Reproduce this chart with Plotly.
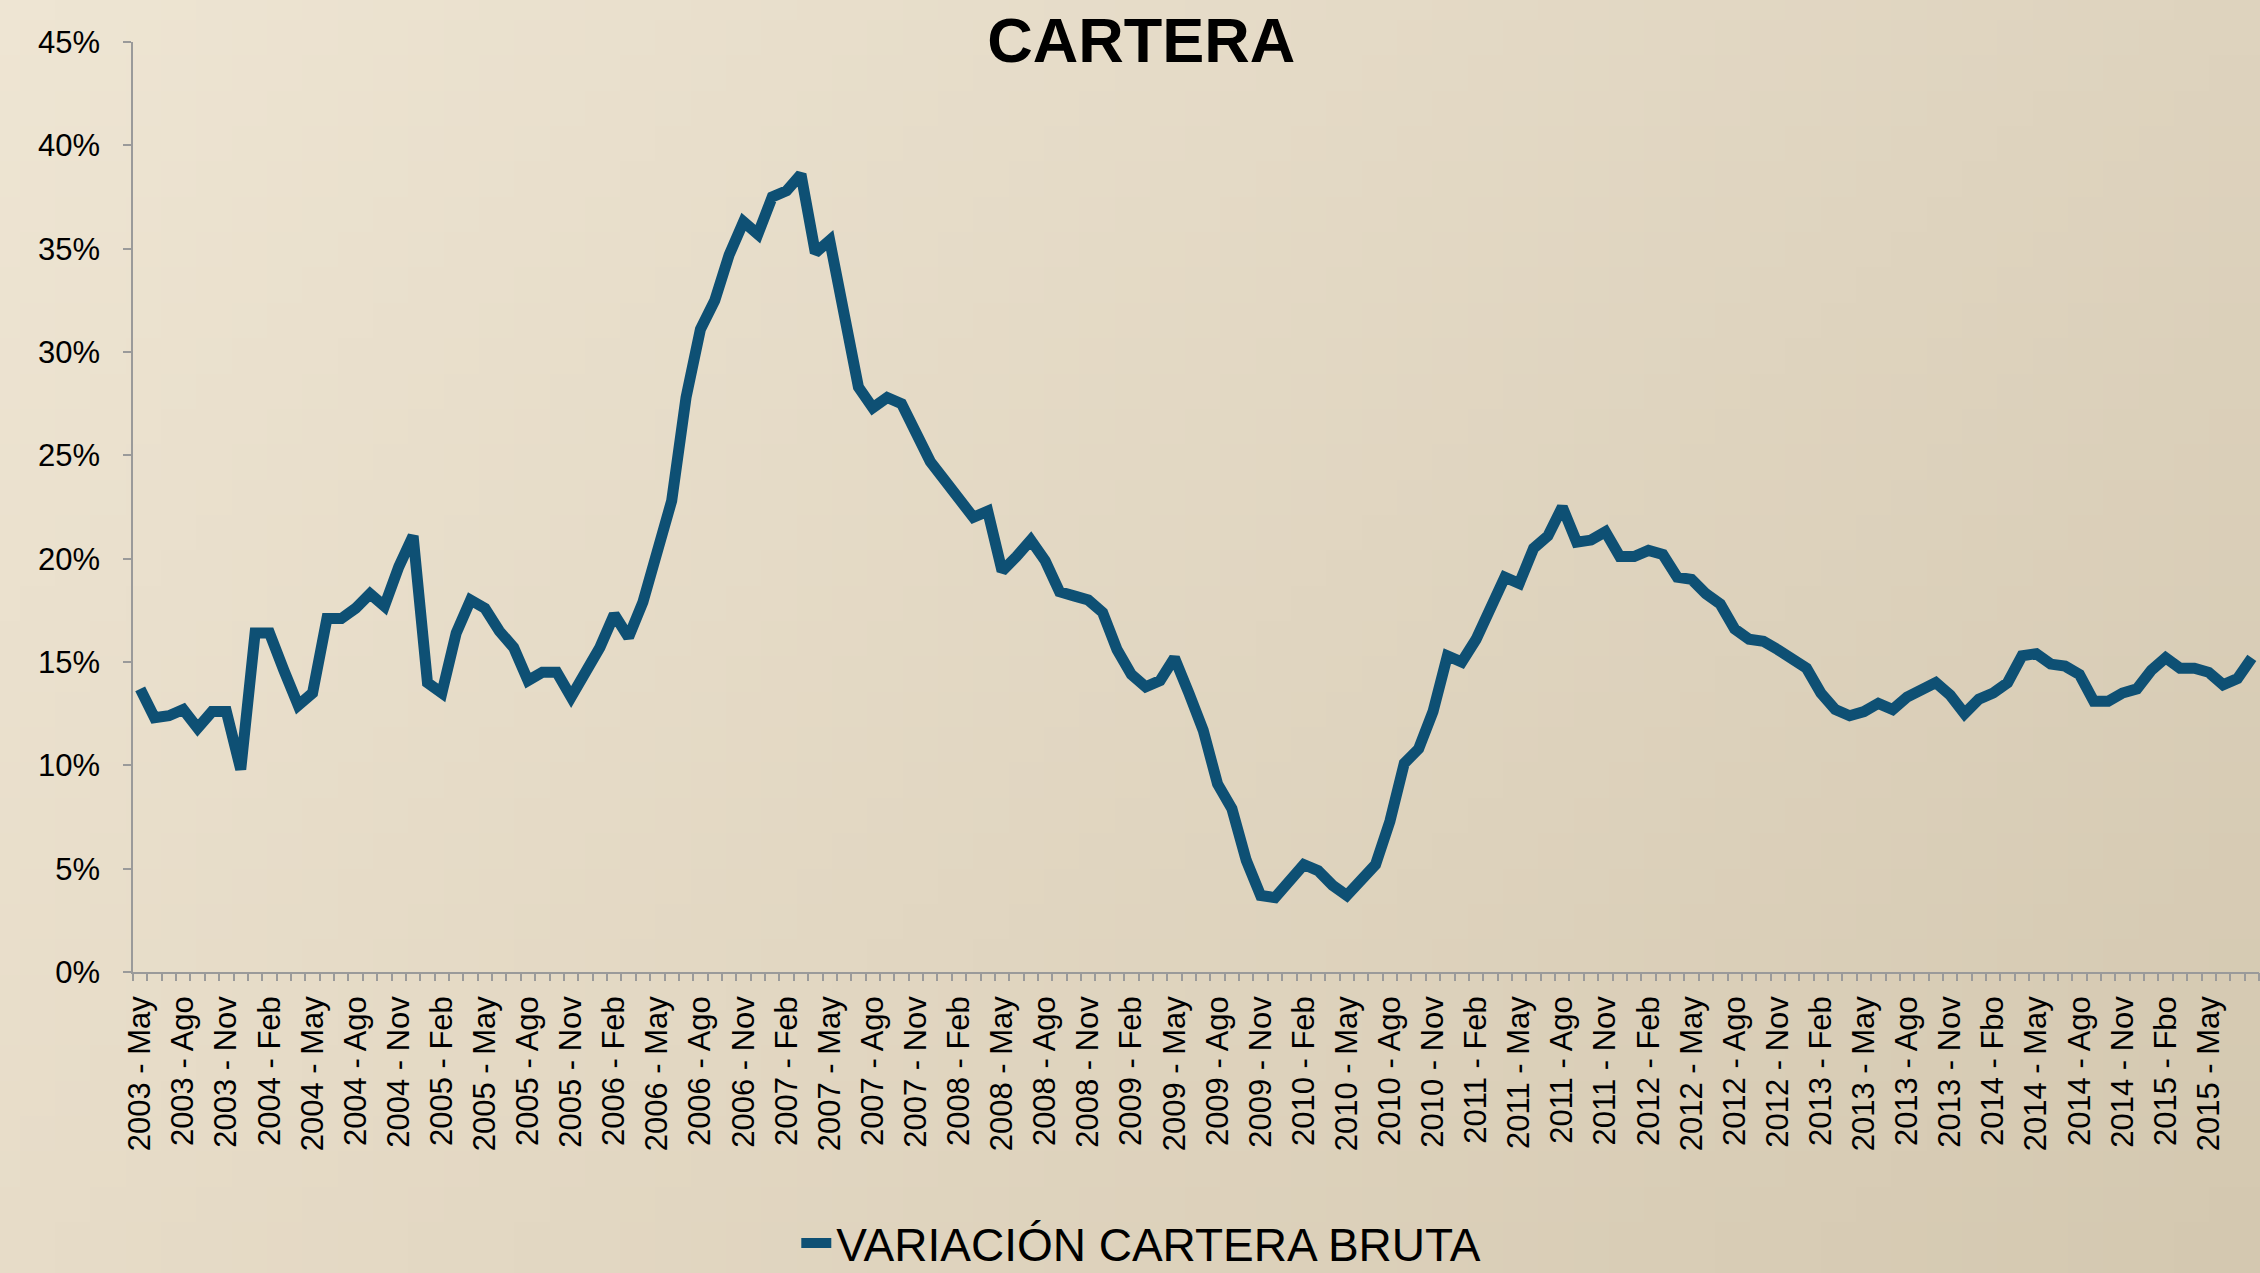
import base64
import struct
import zlib

import plotly.graph_objects as go

# ---------------- data ----------------
month_names = ["Ene", "Feb", "Mar", "Abr", "May", "Jun", "Jul", "Ago", "Sep", "Oct", "Nov", "Dic"]
start_year, start_month, n_months = 2003, 4, 148  # May 2003 .. Aug 2015
categories = [
    f"{start_year + (start_month + k) // 12} - {month_names[(start_month + k) % 12]}"
    for k in range(n_months)
]

variacion_cartera_bruta = [
    13.7, 12.3, 12.4, 12.7, 11.8, 12.6, 12.6, 9.8, 16.4, 16.4, 14.6, 12.9,
    13.5, 17.1, 17.1, 17.6, 18.3, 17.7, 19.6, 21.1, 14.0, 13.5, 16.4, 18.0,
    17.6, 16.5, 15.7, 14.1, 14.5, 14.5, 13.3, 14.4, 15.7, 17.3, 16.2, 17.9,
    20.3, 22.8, 27.8, 31.1, 32.5, 34.7, 36.3, 35.7, 37.5, 37.8, 38.6, 34.8,
    35.4, 32.0, 28.3, 27.3, 27.8, 27.5, 26.2, 24.7, 23.8, 22.9, 22.0, 22.3,
    19.4, 20.1, 20.9, 19.9, 18.4, 18.2, 18.0, 17.4, 15.6, 14.4, 13.8, 14.1,
    15.2, 13.5, 11.7, 9.1, 7.9, 5.4, 3.7, 3.6, 4.5, 5.2, 4.9, 4.2,
    3.7, 4.4, 5.2, 7.3, 10.1, 10.8, 12.6, 15.3, 15.0, 16.1, 17.6, 19.1,
    18.8, 20.5, 21.1, 22.5, 20.8, 20.9, 21.3, 20.1, 20.1, 20.4, 20.2, 19.1,
    19.0, 18.3, 17.8, 16.6, 16.1, 16.0, 15.6, 15.2, 14.7, 13.5, 12.7, 12.4,
    12.6, 13.0, 12.7, 13.3, 13.6, 14.0, 13.4, 12.5, 13.2, 13.5, 14.0, 15.3,
    15.4, 14.9, 14.8, 14.4, 13.1, 13.1, 13.5, 13.7, 14.6, 15.2, 14.7, 14.7,
    14.5, 13.9, 14.2, 15.2,
]

tick_labels = [
    "2003 - May", "2003 - Ago", "2003 - Nov", "2004 - Feb", "2004 - May", "2004 - Ago",
    "2004 - Nov", "2005 - Feb", "2005 - May", "2005 - Ago", "2005 - Nov", "2006 - Feb",
    "2006 - May", "2006 - Ago", "2006 - Nov", "2007 - Feb", "2007 - May", "2007 - Ago",
    "2007 - Nov", "2008 - Feb", "2008 - May", "2008 - Ago", "2008 - Nov", "2009 - Feb",
    "2009 - May", "2009 - Ago", "2009 - Nov", "2010 - Feb", "2010 - May", "2010 - Ago",
    "2010 - Nov", "2011 - Feb", "2011 - May", "2011 - Ago", "2011 - Nov", "2012 - Feb",
    "2012 - May", "2012 - Ago", "2012 - Nov", "2013 - Feb", "2013 - May", "2013 - Ago",
    "2013 - Nov", "2014 - Fbo", "2014 - May", "2014 - Ago", "2014 - Nov", "2015 - Fbo",
    "2015 - May",
]
y_ticks = [0, 5, 10, 15, 20, 25, 30, 35, 40, 45]
y_tick_labels = ["0%", "5%", "10%", "15%", "20%", "25%", "30%", "35%", "40%", "45%"]

# ---------------- background (paper-like gradient) ----------------
def make_png(w, h, corners):
    tl, tr, bl, br = corners
    rows = []
    for j in range(h):
        fy = j / (h - 1)
        row = bytearray([0])
        for i in range(w):
            fx = i / (w - 1)
            px = []
            for c in range(3):
                top = tl[c] * (1 - fx) + tr[c] * fx
                bot = bl[c] * (1 - fx) + br[c] * fx
                px.append(int(round(top * (1 - fy) + bot * fy)))
            row += bytes(px)
        rows.append(bytes(row))
    raw = b"".join(rows)

    def chunk(tag, data):
        c = struct.pack(">I", len(data)) + tag + data
        return c + struct.pack(">I", zlib.crc32(tag + data) & 0xFFFFFFFF)

    png = b"\x89PNG\r\n\x1a\n"
    png += chunk(b"IHDR", struct.pack(">IIBBBBB", w, h, 8, 2, 0, 0, 0))
    png += chunk(b"IDAT", zlib.compress(raw, 9))
    png += chunk(b"IEND", b"")
    return "data:image/png;base64," + base64.b64encode(png).decode()


bg_src = make_png(64, 36, [(238, 229, 211), (222, 211, 190), (231, 220, 200), (212, 200, 176)])

W, H = 2260, 1273
ml, mr, mt, mb = 133, 1, 42, 301
pw, ph = W - ml - mr, H - mt - mb

fig = go.Figure()
fig.add_trace(
    go.Scatter(
        x=categories,
        y=variacion_cartera_bruta,
        mode="lines",
        name="VARIACIÓN CARTERA BRUTA",
        line=dict(color="#0E5074", width=11),
    )
)
# helper trace for the per-month tick marks axis
fig.add_trace(
    go.Scatter(
        x=[-0.5, n_months - 0.5],
        y=[None, None],
        xaxis="x2",
        mode="lines",
        showlegend=False,
        hoverinfo="skip",
    )
)

axis_color = "#9A9A9A"
fig.update_layout(
    width=W,
    height=H,
    margin=dict(l=ml, r=mr, t=mt, b=mb),
    paper_bgcolor="#E4D9C3",
    plot_bgcolor="rgba(0,0,0,0)",
    font=dict(family="Liberation Sans, Arial, sans-serif", color="black"),
    title=dict(
        text="<b>CARTERA</b>",
        font=dict(size=63, family="Liberation Sans, Arial, sans-serif", color="black"),
        x=0.505,
        xanchor="center",
        y=1 - 40 / H,
        yanchor="middle",
        xref="container",
        yref="container",
    ),
    xaxis=dict(
        type="category",
        categoryorder="array",
        categoryarray=categories,
        range=[-0.5, n_months - 0.5],
        tickmode="array",
        tickvals=categories[:145:3],
        ticktext=tick_labels,
        tickangle=-90,
        ticks="",
        ticklabelstandoff=10,
        tickfont=dict(size=31, color="black"),
        showline=True,
        linecolor=axis_color,
        linewidth=1.5,
        showgrid=False,
        zeroline=False,
    ),
    xaxis2=dict(
        overlaying="x",
        anchor="y",
        side="bottom",
        range=[-0.5, n_months - 0.5],
        tickmode="array",
        tickvals=[k - 0.5 for k in range(n_months + 1)],
        showticklabels=False,
        ticks="outside",
        ticklen=8,
        tickwidth=1.5,
        tickcolor=axis_color,
        showline=False,
        showgrid=False,
        zeroline=False,
    ),
    yaxis=dict(
        range=[0, 45],
        tickmode="array",
        tickvals=y_ticks,
        ticktext=y_tick_labels,
        ticks="outside",
        ticklen=8,
        tickwidth=1.5,
        tickcolor=axis_color,
        ticklabelstandoff=17,
        tickfont=dict(size=31, color="black"),
        showline=True,
        linecolor=axis_color,
        linewidth=1.5,
        showgrid=False,
        zeroline=False,
    ),
    legend=dict(
        orientation="h",
        x=0.505,
        xanchor="center",
        y=1 - 1243 / H,
        yanchor="middle",
        xref="container",
        yref="container",
        font=dict(size=46, color="black"),
        bgcolor="rgba(0,0,0,0)",
    ),
    images=[
        dict(
            source=bg_src,
            xref="paper",
            yref="paper",
            x=-ml / pw,
            y=1 + mt / ph,
            sizex=W / pw,
            sizey=H / ph,
            sizing="stretch",
            xanchor="left",
            yanchor="top",
            layer="below",
        )
    ],
)

fig.write_html(
    "out.html",
    config={"displayModeBar": False},
    post_script="document.body.style.margin='0';document.body.style.overflow='hidden';",
)
